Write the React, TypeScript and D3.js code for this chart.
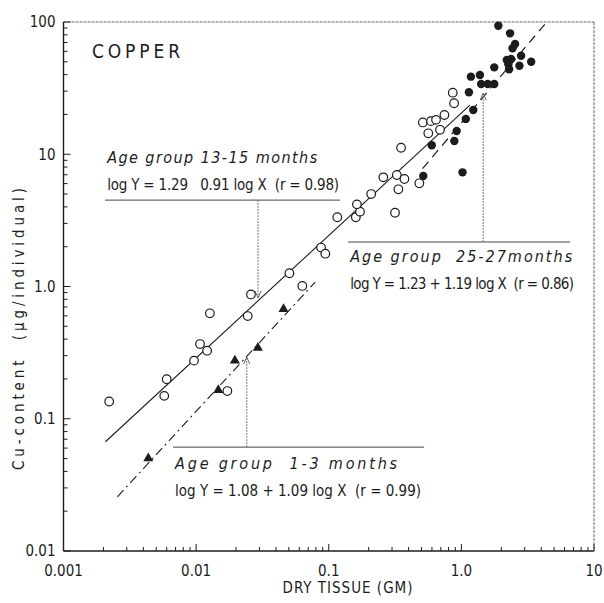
import React from "react";
import * as d3 from "d3";

// Age group 13-15 months (open circles)  [dry tissue g, Cu ug]
const group13to15: [number, number][] = [
  [0.00221, 0.135], [0.0060, 0.199], [0.00575, 0.149], [0.00964, 0.275],
  [0.0107, 0.367], [0.0121, 0.327], [0.0127, 0.627], [0.0245, 0.598],
  [0.0172, 0.162], [0.0259, 0.871], [0.0505, 1.26], [0.0632, 1.01],
  [0.0875, 1.97], [0.0942, 1.77], [0.116, 3.34], [0.160, 3.34],
  [0.172, 3.68], [0.163, 4.18], [0.209, 5.0], [0.258, 6.69],
  [0.326, 6.97], [0.316, 3.61], [0.335, 5.43], [0.372, 6.5],
  [0.482, 6.03], [0.351, 11.2], [0.512, 17.4], [0.59, 17.8],
  [0.644, 18.2], [0.745, 19.8], [0.563, 14.4], [0.69, 15.3],
  [0.861, 29.2], [0.881, 24.3],
];

// Age group 1-3 months (filled triangles)
const group1to3: [number, number][] = [
  [0.00436, 0.0502], [0.0147, 0.165], [0.0196, 0.275], [0.0292, 0.344], [0.0456, 0.676],
];

// Age group 25-27 months (filled circles)
const group25to27: [number, number][] = [
  [1.9, 93.8], [2.33, 82.1], [2.54, 68.2], [2.43, 63.3], [2.82, 55.6],
  [3.36, 50.1], [2.74, 46.7], [2.2, 51.6], [2.37, 52.5], [2.26, 47.9],
  [2.29, 43.9], [1.77, 45.4], [1.38, 39.7], [1.18, 38.6], [1.41, 34.0],
  [1.58, 34.0], [1.77, 34.0], [1.14, 29.4], [1.23, 21.6], [1.08, 18.5],
  [0.922, 15.0], [0.885, 12.6], [0.598, 11.7], [1.02, 7.3], [0.516, 6.85],
];

// regression lines, end points as drawn
const fit13to15: [number, number][] = [[0.00207, 0.067], [1.16, 23.5]];
const fit25to27: [number, number][] = [[0.51, 7.8], [4.4, 100]];
const fit1to3: [number, number][] = [[0.00255, 0.0257], [0.079, 1.08]];

const xTickLabels = ["0.001", "0.01", "0.1", "1.0", "10"];
const yTickLabels = ["0.01", "0.1", "1.0", "10", "100"];

// annotation boxes: underline from x0 to x1 at yLine, arrow at xArrow pointing to yTip
const annotations = [
  { title: "Age group 13-15 months", eq: "log Y = 1.29   0.91 log X  (r = 0.98)",
    x0: 0.00206, x1: 0.1216, yLine: 4.5, xArrow: 0.0293, yTip: 0.82, above: true,
    titleW: 210, eqW: 232 },
  { title: "Age group  25-27months", eq: "log Y = 1.23 + 1.19 log X  (r = 0.86)",
    x0: 0.14, x1: 6.6, yLine: 2.17, xArrow: 1.46, yTip: 29, above: false,
    titleW: 222, eqW: 224 },
  { title: "Age group  1-3 months", eq: "log Y = 1.08 + 1.09 log X  (r = 0.99)",
    x0: 0.0067, x1: 0.524, yLine: 0.061, xArrow: 0.0241, yTip: 0.293, above: false,
    titleW: 222, eqW: 246 },
];

const W = 604;
const H = 603;
const font = "'DejaVu Sans Condensed', 'Liberation Sans Narrow', 'DejaVu Sans', sans-serif";
const ink = "#1c1c1c";

export default function App() {
  const x = d3.scaleLog().domain([0.001, 10]).range([63.5, 594]);
  const y = d3.scaleLog().domain([0.01, 100]).range([551, 22]);
  const line = d3.line<[number, number]>().x(d => x(d[0])).y(d => y(d[1]));

  const isMajor = (v: number) => Math.abs(Math.log10(v) - Math.round(Math.log10(v))) < 1e-6;
  const xTicks = x.ticks();
  const yTicks = y.ticks();
  const [left, right] = x.range();
  const [bottom, top] = y.range();

  const tri = d3.symbol().type(d3.symbolTriangle).size(44)();

  return (
    <svg width={W} height={H} style={{ position: "absolute", left: 0, top: 0, background: "#fff" }}
      fontFamily={font}>
      {/* frame */}
      <line x1={left} x2={right} y1={top} y2={top} stroke="#666" strokeWidth={1} strokeDasharray="3 1" />
      <line x1={right} x2={right} y1={top} y2={bottom} stroke="#666" strokeWidth={1} strokeDasharray="3 1" />
      <line x1={left} x2={left} y1={top} y2={bottom} stroke={ink} strokeWidth={1.4} />
      <line x1={left} x2={right} y1={bottom} y2={bottom} stroke={ink} strokeWidth={1.4} />

      {/* ticks, pointing inside */}
      {xTicks.map((t, i) => (
        <line key={"xt" + i} x1={x(t)} x2={x(t)} y1={bottom} y2={bottom - (isMajor(t) ? 7 : 4)}
          stroke={ink} strokeWidth={1} />
      ))}
      {yTicks.map((t, i) => (
        <line key={"yt" + i} x1={left} x2={left + (isMajor(t) ? 7 : 4)} y1={y(t)} y2={y(t)}
          stroke={ink} strokeWidth={1} />
      ))}
      {xTicks.filter(isMajor).map((t, i) => (
        <text key={"xl" + i} x={x(t)} y={bottom + 25} textAnchor="middle" fontSize={15} fill={ink}>
          {xTickLabels[i]}
        </text>
      ))}
      {yTicks.filter(isMajor).map((t, i) => (
        <text key={"yl" + i} x={left - 8} y={y(t)} dy="0.35em" textAnchor="end" fontSize={15} fill={ink}>
          {yTickLabels[i]}
        </text>
      ))}

      {/* axis titles */}
      <text x={348} y={593} textAnchor="middle" fontSize={15} letterSpacing={1} fill={ink}>
        DRY TISSUE (GM)
      </text>
      <text transform="translate(24,329) rotate(-90)" textAnchor="middle" fontSize={15}
        textLength={282} lengthAdjust="spacing" fill={ink} style={{ whiteSpace: "pre" }}>
        {"Cu-content  (µg/individual)"}
      </text>
      <text x={92} y={58} fontSize={19} textLength={88} lengthAdjust="spacing" fill={ink}>COPPER</text>

      {/* regression lines */}
      <path d={line(fit13to15) ?? ""} fill="none" stroke={ink} strokeWidth={1.1} />
      <path d={line(fit25to27) ?? ""} fill="none" stroke={ink} strokeWidth={1.2} strokeDasharray="9 6" />
      <path d={line(fit1to3) ?? ""} fill="none" stroke={ink} strokeWidth={1.1} strokeDasharray="9 4 2 4" />

      {/* annotations */}
      {annotations.map((a, i) => {
        const ly = y(a.yLine);
        const ax = x(a.xArrow);
        const tip = y(a.yTip);
        const dir = tip > ly ? 1 : -1;
        const titleY = a.above ? ly - 37 : ly + (i === 1 ? 20 : 22);
        const eqY = a.above ? ly - 10 : titleY + 27;
        return (
          <g key={"an" + i}>
            <line x1={x(a.x0)} x2={x(a.x1)} y1={ly} y2={ly} stroke="#444" strokeWidth={1} />
            <line x1={ax} x2={ax} y1={ly} y2={tip} stroke="#777" strokeWidth={1} strokeDasharray="2 1" />
            <path d={`M${ax - 3},${tip - dir * 7}L${ax},${tip}L${ax + 3},${tip - dir * 7}`}
              fill="none" stroke="#666" strokeWidth={1} />
            <text x={x(a.x0) + 2} y={titleY} fontSize={16} fontStyle="italic" fill={ink}
              textLength={a.titleW} lengthAdjust="spacing" style={{ whiteSpace: "pre" }}>
              {a.title}
            </text>
            <text x={x(a.x0) + 2} y={eqY} fontSize={15} fill={ink}
              textLength={a.eqW} lengthAdjust="spacing" style={{ whiteSpace: "pre" }}>
              {a.eq}
            </text>
          </g>
        );
      })}

      {/* points */}
      {group13to15.map((d, i) => (
        <circle key={"o" + i} cx={x(d[0])} cy={y(d[1])} r={4.3} fill="#fff" stroke={ink} strokeWidth={1.2} />
      ))}
      {group25to27.map((d, i) => (
        <circle key={"f" + i} cx={x(d[0])} cy={y(d[1])} r={4.2} fill={ink} />
      ))}
      {group1to3.map((d, i) => (
        <path key={"t" + i} d={tri ?? ""} transform={`translate(${x(d[0])},${y(d[1])})`} fill={ink} />
      ))}
    </svg>
  );
}
